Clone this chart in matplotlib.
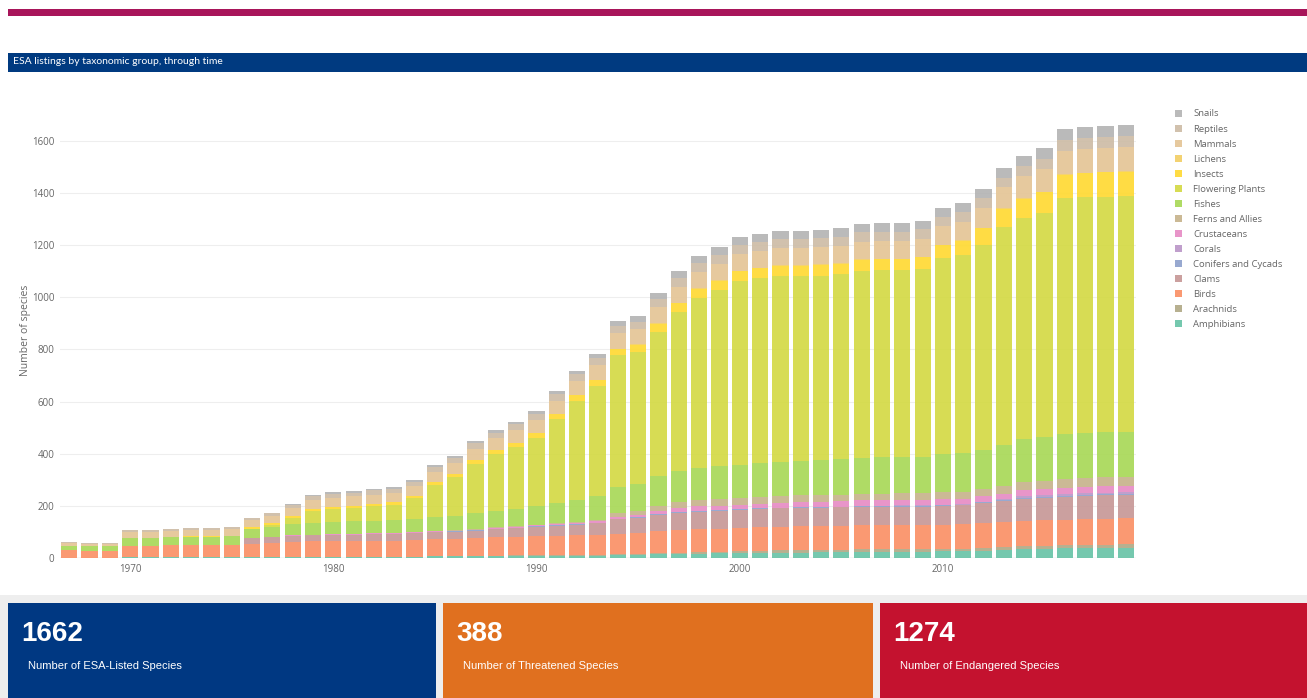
import numpy as np
import matplotlib
matplotlib.use("Agg")
import matplotlib.pyplot as plt
from matplotlib.patches import Rectangle
from matplotlib.colors import LinearSegmentedColormap

# data (1967-2019)
years = list(range(1967, 2020))
groups = ['Amphibians', 'Arachnids', 'Birds', 'Clams', 'Conifers and Cycads', 'Corals',
          'Crustaceans', 'Ferns and Allies', 'Fishes', 'Flowering Plants', 'Insects',
          'Lichens', 'Mammals', 'Reptiles', 'Snails']

amphibians = [1, 1, 1, 2, 2, 2, 2, 2, 2, 3, 4, 4, 5,
              5, 5, 5, 5, 5, 6, 6, 6, 6, 7,
              7, 8, 8, 9, 10, 12, 14, 16, 17, 18,
              19, 20, 21, 21, 22, 22, 23, 23, 24, 24,
              25, 26, 28, 30, 33, 35, 37, 38, 39, 40]
arachnids = [0] * 21 + [3, 3, 3, 3, 3, 3, 5, 5, 5, 5, 5, 5,
                        6, 7, 8, 10, 10, 10, 10, 10, 10, 10,
                        10, 10, 12, 12, 12, 12, 12, 12, 12, 12]
birds = [28, 27, 27, 45, 45, 46, 47, 47, 48, 52, 55, 58, 60,
         61, 61, 62, 62, 63, 65, 67, 69, 71, 72,
         74, 75, 76, 77, 78, 80, 83, 86, 88, 88,
         89, 90, 91, 91, 91, 92, 92, 92, 92, 92,
         93, 93, 94, 95, 96, 97, 98, 99, 100, 100]
clams = [0] * 9 + [20, 22, 23, 23,
                   23, 23, 24, 25, 26, 27, 28, 30, 31, 33,
                   35, 38, 40, 44, 55, 57, 62, 66, 68, 69,
                   70, 70, 70, 70, 70, 70, 71, 71, 71, 71,
                   72, 73, 76, 82, 85, 86, 88, 89, 89, 89]
conifers = [0] * 11 + [1] * 12 + [2, 2, 2, 2, 3, 3, 3, 3, 3, 3] + [3] * 10 + \
           [3, 3, 3, 4, 4, 4, 4, 4, 4, 4]
corals = [0] * 39 + [2] * 8 + [7] * 6
crustaceans = [0] * 11 + [1, 1, 2, 2, 2, 2, 3, 3, 3, 3, 3, 3,
                          4, 4, 5, 5, 7, 8, 12, 14, 17, 18,
                          18, 19, 19, 19, 19, 20, 20, 20, 20, 20,
                          20, 20, 21, 22, 23, 24, 24, 24, 25, 25]
ferns = [0] * 13 + [1, 1, 1, 1, 1, 1, 1, 2, 2, 2,
                    3, 3, 4, 6, 14, 16, 22, 24, 26, 26] + [26] * 10 + \
        [27, 27, 28, 30, 31, 32, 33, 33, 33, 33]
fishes = [18, 18, 18, 30, 30, 32, 33, 33, 34, 35, 37, 42, 46,
          46, 47, 48, 49, 51, 53, 56, 61, 65, 68,
          72, 78, 84, 90, 100, 104, 112, 118, 122, 125,
          127, 130, 132, 132, 134, 136, 138, 139, 139, 141,
          145, 148, 152, 158, 164, 168, 172, 174, 175, 175]
flowering = [0] * 9 + [3, 10, 25, 45,
                       50, 52, 55, 59, 79, 124, 148, 190, 218, 237,
                       262, 321, 380, 424, 505, 505, 555, 613, 652, 676,
                       704, 707, 710, 708, 708, 709, 717, 718, 717, 721,
                       753, 759, 786, 836, 848, 858, 907, 904, 901, 902]
insects = [0, 0, 0, 1, 1, 1, 1, 1, 1, 4, 5, 6, 7,
           8, 8, 9, 9, 10, 11, 12, 13, 14, 16,
           18, 20, 22, 24, 26, 27, 30, 32, 34, 36,
           38, 39, 40, 40, 41, 41, 42, 42, 42, 43,
           50, 55, 62, 68, 75, 80, 88, 92, 94, 95]
lichens = [0] * 28 + [2] * 25
mammals = [10, 8, 8, 22, 22, 23, 24, 24, 26, 27, 29, 32, 34,
           35, 36, 36, 37, 37, 40, 41, 44, 45, 47,
           49, 52, 54, 56, 58, 59, 61, 62, 63, 63,
           64, 64, 65, 65, 65, 66, 66, 67, 67, 68,
           70, 72, 76, 80, 84, 87, 90, 91, 92, 93]
reptiles = [4, 4, 4, 7, 7, 7, 8, 8, 8, 9, 10, 12, 14,
            15, 15, 16, 16, 17, 19, 20, 21, 22, 23,
            24, 25, 26, 27, 28, 29, 31, 32, 33, 34,
            35, 35, 36, 36, 36, 36, 37, 37, 37, 37,
            37, 37, 38, 38, 39, 39, 40, 40, 40, 40]
snails = [0] * 10 + [1, 3, 6,
                     6, 6, 6, 6, 6, 7, 8, 9, 10, 10,
                     11, 12, 14, 16, 20, 22, 25, 28, 29, 30,
                     31, 31, 32, 32, 32, 33, 33, 33, 33, 33,
                     34, 35, 36, 38, 40, 42, 44, 45, 45, 45]

series = [amphibians, arachnids, birds, clams, conifers, corals, crustaceans, ferns,
          fishes, flowering, insects, lichens, mammals, reptiles, snails]

card_values = ['1662', '388', '1274']
card_labels = ['Number of ESA-Listed Species', 'Number of Threatened Species',
               'Number of Endangered Species']
card_colors = ['#003882', '#e0701f', '#c4122f']

# colours: Set2 stretched over the 15 groups
set2 = ['#66c2a5', '#fc8d62', '#8da0cb', '#e78ac3', '#a6d854', '#ffd92f', '#e5c494', '#b3b3b3']
cmap = LinearSegmentedColormap.from_list('set2_interp', set2)
colors = [cmap(i / (len(groups) - 1)) for i in range(len(groups))]

W, H = 1307, 698
fig = plt.figure(figsize=(W / 100, H / 100), dpi=100)
fig.patch.set_facecolor('white')


def box(x0, y0, x1, y1, color):
    fig.add_artist(Rectangle((x0 / W, 1 - y1 / H), (x1 - x0) / W, (y1 - y0) / H,
                             transform=fig.transFigure, color=color, lw=0))


# header strips
box(8, 9, 1307, 16, '#a8155a')
box(8, 53, 1307, 72, '#003a80')
fig.text(13 / W, 1 - 62 / H, 'ESA listings by taxonomic group, through time',
         color='white', fontsize=7.5, family='Lato', va='center', ha='left')

# chart
ax = fig.add_axes([60 / W, 1 - 558 / H, (1136 - 60) / W, (558 - 103) / H])
bottom = np.zeros(len(years))
handles = []
for name, vals, c in zip(groups, series, colors):
    vals = np.array(vals, dtype=float)
    b = ax.bar(years, vals, bottom=bottom, width=0.8, color=c, alpha=0.9,
               linewidth=0, label=name)
    handles.append(b)
    bottom += vals

ax.set_xlim(1966.55, 2019.5)
ax.set_ylim(0, 1745)
ax.set_yticks(range(0, 1601, 200))
ax.set_xticks([1970, 1980, 1990, 2000, 2010])
ax.grid(axis='y', color='#eeeeee', lw=0.8)
ax.set_axisbelow(True)
for s in ax.spines.values():
    s.set_visible(False)
ax.axhline(0, color='#dddddd', lw=1, zorder=0)
ax.tick_params(length=0, labelsize=7, colors='#666666', pad=4)
for lab in ax.get_xticklabels() + ax.get_yticklabels():
    lab.set_family('Open Sans')
ax.set_ylabel('Number of species', fontsize=7.5, color='#666666', family='Open Sans',
              labelpad=1)

leg = fig.legend(handles[::-1], groups[::-1], loc='upper left',
                 bbox_to_anchor=(1166 / W, 1 - 101 / H), frameon=False,
                 prop={'family': 'Open Sans', 'size': 6.8}, handlelength=0.8,
                 handleheight=0.8, labelspacing=0.64, handletextpad=1.2)
for t in leg.get_texts():
    t.set_color('#666666')

# summary cards
box(0, 595, 1307, 698, '#eeeeee')
xs = [(8, 436), (443, 873), (880, 1307)]
for (x0, x1), val, lab, col in zip(xs, card_values, card_labels, card_colors):
    box(x0, 603, x1, 698, col)
    fig.text((x0 + 13) / W, 1 - 634 / H, val, color='white', fontsize=20,
             fontweight='bold', family='Liberation Sans', va='center', ha='left')
    fig.text((x0 + 20) / W, 1 - 666 / H, lab, color='white', fontsize=8,
             family='Liberation Sans', va='center', ha='left')

fig.savefig('out.png', dpi=100)
